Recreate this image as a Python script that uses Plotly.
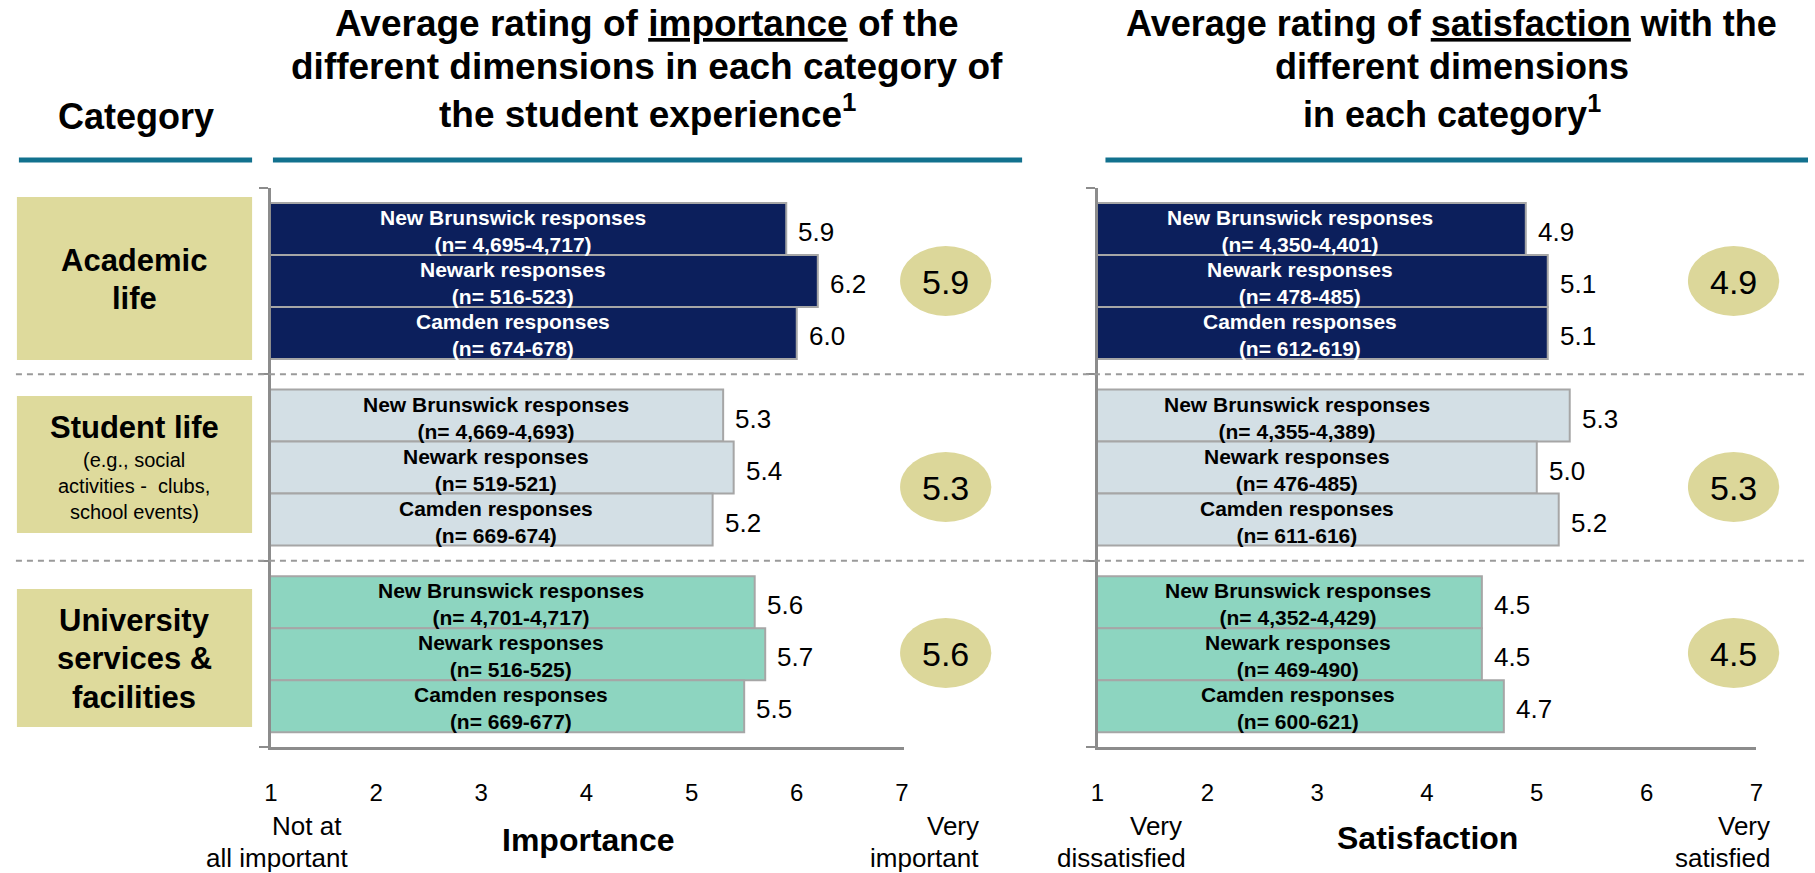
import plotly.graph_objects as go

W, H = 1815, 873

# ---- data ----
categories = ["Academic life", "Student life", "University services & facilities"]
campuses = ["New Brunswick responses", "Newark responses", "Camden responses"]

importance = [[5.9, 6.2, 6.0], [5.3, 5.4, 5.2], [5.6, 5.7, 5.5]]
importance_n = [["4,695-4,717", "516-523", "674-678"],
                ["4,669-4,693", "519-521", "669-674"],
                ["4,701-4,717", "516-525", "669-677"]]
importance_avg = [5.9, 5.3, 5.6]

satisfaction = [[4.9, 5.1, 5.1], [5.3, 5.0, 5.2], [4.5, 4.5, 4.7]]
satisfaction_n = [["4,350-4,401", "478-485", "612-619"],
                  ["4,355-4,389", "476-485", "611-616"],
                  ["4,352-4,429", "469-490", "600-621"]]
satisfaction_avg = [4.9, 5.3, 4.5]

tick_vals = [1, 2, 3, 4, 5, 6, 7]

# ---- styles ----
FONT = "Liberation Sans, Arial, sans-serif"
bar_colors = ["#0C1F5C", "#D3DFE5", "#8DD5C0"]
text_colors = ["white", "black", "black"]
khaki = "#DEDA9C"
ellipse_col = "#DCD79A"
teal = "#12718E"
gray = "#8C8C8C"


def px(x):
    return x / W


def py(y):
    return 1 - y / H


# y positions of bars (1 unit = bar thickness)
first, pitch = 0.79, 3.587
ypos = [[first + g * pitch + i for i in range(3)] for g in range(3)]
seps = [(ypos[g][2] + ypos[g + 1][0]) / 2 for g in range(2)]
y_top, y_bot = 188, 747
y_range = [10.75, 0]

# where the in-bar labels sit (x, axis units), per group
label_x_left = [3.30, 3.14, 3.28]
label_x_right = [2.84, 2.82, 2.83]

fig = go.Figure()
annotations = []
shapes = []

panels = [("x", "y", importance, importance_n, label_x_left),
          ("x2", "y2", satisfaction, satisfaction_n, label_x_right)]

for xa, ya, vals, ns, lx in panels:
    for g in range(3):
        fig.add_trace(go.Bar(
            x=vals[g], y=ypos[g], base=0, orientation="h", width=1,
            marker=dict(color=bar_colors[g], line=dict(color="#A6A6A6", width=2)),
            xaxis=xa, yaxis=ya, showlegend=False, hoverinfo="skip"))
        for i in range(3):
            v = vals[g][i]
            annotations.append(dict(
                x=lx[g], y=ypos[g][i], xref=xa, yref=ya, showarrow=False,
                xanchor="center", yanchor="middle",
                text="<b>%s<br>(n= %s)</b>" % (campuses[i], ns[g][i]),
                font=dict(family=FONT, size=21, color=text_colors[g]),
                yshift=-2))
            annotations.append(dict(
                x=v, y=ypos[g][i], xref=xa, yref=ya, showarrow=False,
                text="%.1f" % v, xanchor="left", yanchor="middle", xshift=10, yshift=-3,
                font=dict(family=FONT, size=26, color="black")))

# separators (dashed)
for s in seps:
    shapes.append(dict(type="line", xref="paper", yref="y", x0=px(9), x1=1,
                       y0=s, y1=s, line=dict(color="#9A9A9A", width=2, dash="6px,5px")))

# header rules
for x0, x1 in [(12, 247), (268, 1023), (1107, 1815)]:
    shapes.append(dict(type="line", xref="paper", yref="paper", x0=px(x0), x1=px(x1),
                       y0=py(160), y1=py(160), line=dict(color=teal, width=5)))

# category boxes
for y0, y1 in [(197, 360), (396, 533), (589, 727)]:
    shapes.append(dict(type="rect", xref="paper", yref="paper", x0=px(10), x1=px(247),
                       y0=py(y1), y1=py(y0), fillcolor=khaki, line=dict(width=0),
                       layer="below"))

# ellipses with group averages
ell_y = [281, 487, 653]
for cx, avgs in [(946, importance_avg), (1740, satisfaction_avg)]:
    for g in range(3):
        shapes.append(dict(type="circle", xref="paper", yref="paper",
                           x0=px(cx - 46), x1=px(cx + 46),
                           y0=py(ell_y[g] + 35), y1=py(ell_y[g] - 35),
                           fillcolor=ellipse_col, line=dict(width=0)))
        annotations.append(dict(x=px(cx), y=py(ell_y[g] + 1), xref="paper", yref="paper",
                                showarrow=False, text="%.1f" % avgs[g],
                                xanchor="center", yanchor="middle",
                                font=dict(family=FONT, size=34, color="black")))


def txt(x, y, s, size, bold=False, anchor="center"):
    annotations.append(dict(x=px(x), y=py(y), xref="paper", yref="paper", showarrow=False,
                            text=("<b>%s</b>" % s) if bold else s, xanchor=anchor,
                            yanchor="middle",
                            font=dict(family=FONT, size=size, color="black")))


# titles
txt(645, 23, "Average rating of <u>importance</u> of the", 37, True)
txt(645, 67, "different dimensions in each category of", 37, True)
txt(645, 112, "the student experience<sup>1</sup>", 37, True)
txt(1456, 23, "Average rating of <u>satisfaction</u> with the", 36, True)
txt(1456, 67, "different dimensions", 36, True)
txt(1456, 112, "in each category<sup>1</sup>", 36, True)
txt(130, 117, "Category", 36, True)

# category labels
txt(128, 260, "Academic", 31, True)
txt(128, 298, "life", 31, True)
txt(128, 427, "Student life", 31, True)
txt(128, 460, "(e.g., social", 20)
txt(128, 486, "activities -  clubs,", 20)
txt(128, 512, "school events)", 20)
txt(128, 620, "University", 31, True)
txt(128, 658, "services &", 31, True)
txt(128, 697, "facilities", 31, True)

# axis captions
txt(586, 840, "Importance", 32, True)
txt(1432, 838, "Satisfaction", 32, True)
txt(340, 826, "Not at", 26, anchor="right")
txt(346, 858, "all important", 26, anchor="right")
txt(982, 826, "Very", 26, anchor="right")
txt(982, 858, "important", 26, anchor="right")
txt(1186, 826, "Very", 26, anchor="right")
txt(1190, 858, "dissatisfied", 26, anchor="right")
txt(1779, 826, "Very", 26, anchor="right")
txt(1779, 858, "satisfied", 26, anchor="right")

xcommon = dict(tickvals=tick_vals, ticks="", showgrid=False, zeroline=False,
               showline=True, linecolor=gray, linewidth=2.5,
               tickfont=dict(family=FONT, size=24, color="black"),
               ticklabelstandoff=22)
ycommon = dict(range=y_range, tickvals=[0] + seps + [10.75], showticklabels=False,
               ticks="outside", ticklen=9, tickwidth=2, tickcolor=gray,
               showline=True, linecolor=gray, linewidth=2.5,
               showgrid=False, zeroline=False,
               domain=[py(y_bot), py(y_top)])

fig.update_layout(
    width=W, height=H,
    margin=dict(l=0, r=0, t=0, b=0),
    paper_bgcolor="white", plot_bgcolor="white",
    barmode="overlay",
    xaxis=dict(domain=[px(266), px(904)], range=[1, 7.02], anchor="y", **xcommon),
    xaxis2=dict(domain=[px(1099), px(1763)], range=[1, 7], anchor="y2", **xcommon),
    yaxis=dict(anchor="x", **ycommon),
    yaxis2=dict(anchor="x2", **ycommon),
    annotations=annotations,
    shapes=shapes,
    showlegend=False,
)

fig.write_html("out.html", config={"displayModeBar": False},
               post_script="document.body.style.margin='0';")
